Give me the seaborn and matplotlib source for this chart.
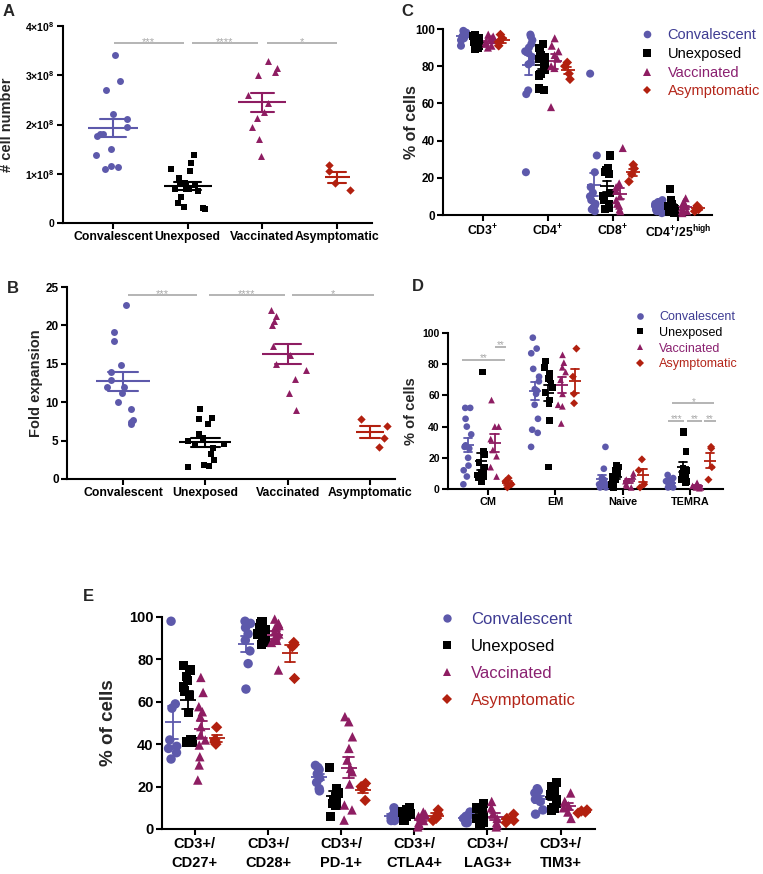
import numpy as np
import pandas as pd
import matplotlib
matplotlib.use("Agg")
import matplotlib.pyplot as plt
from matplotlib.lines import Line2D
import seaborn as sns

# ---------------- data ----------------
groups = ["Convalescent", "Unexposed", "Vaccinated", "Asymptomatic"]

# Panel A: cell number (x 10^8)
a_conv = [3.41, 2.88, 2.71, 2.22, 2.11, 1.95, 1.80, 1.80, 1.77, 1.51, 1.38, 1.16, 1.14, 1.10]
a_unexp = [1.38, 1.21, 1.10, 1.06, 0.92, 0.82, 0.82, 0.78, 0.70, 0.70, 0.70, 0.65, 0.53, 0.41, 0.32, 0.30, 0.28]
a_vacc = [3.29, 3.15, 3.07, 3.00, 2.60, 2.44, 2.25, 2.14, 1.95, 1.70, 1.37]
a_asym = [1.18, 1.05, 0.82, 0.66]

# Panel B: fold expansion
b_conv = [22.7, 19.2, 18.0, 14.9, 13.9, 12.9, 12.0, 12.0, 11.2, 10.0, 9.1, 7.7, 7.4, 7.1]
b_unexp = [9.1, 8.0, 7.8, 7.1, 5.9, 5.3, 5.0, 4.6, 4.5, 4.5, 4.1, 3.3, 2.5, 1.8, 1.7, 1.6]
b_vacc = [22.0, 21.2, 20.6, 20.0, 17.3, 16.2, 15.0, 14.2, 13.0, 11.2, 9.0]
b_asym = [7.8, 6.9, 5.4, 4.2]

# Panel C: % of cells
c_cats = [r"$\mathbf{CD3^{+}}$", r"$\mathbf{CD4^{+}}$", r"$\mathbf{CD8^{+}}$", r"$\mathbf{CD4^{+}/25^{high}}$"]
c_cd3_conv = [99, 98, 98, 97, 97, 96, 96, 95, 94, 91]
c_cd3_unexp = [97, 96, 95, 95, 94, 93, 92, 91, 90, 89]
c_cd3_vacc = [97, 96, 95, 94, 93, 92, 91, 90]
c_cd3_asym = [97, 95, 93, 91]
c_cd4_conv = [97, 96, 94, 92, 90, 88, 87, 85, 82, 81, 67, 65, 23]
c_cd4_unexp = [92, 90, 88, 86, 85, 84, 82, 80, 78, 76, 75, 68, 67]
c_cd4_vacc = [95, 91, 88, 86, 84, 80, 79, 58]
c_cd4_asym = [82, 80, 76, 73]
c_cd8_conv = [76, 32, 23, 15, 12, 10, 8, 6, 5, 4, 3, 2]
c_cd8_unexp = [32, 25, 24, 23, 22, 12, 10, 8, 6, 4, 3]
c_cd8_vacc = [36, 17, 15, 13, 10, 8, 6, 5, 3, 2]
c_cd8_asym = [27, 25, 22, 18]
c_treg_conv = [8, 7, 6, 5, 5, 4, 4, 3, 3, 2, 2, 1]
c_treg_unexp = [14, 8, 6, 5, 4, 3, 3, 2, 2, 1]
c_treg_vacc = [9, 7, 5, 4, 3, 2, 2, 1]
c_treg_asym = [5, 4, 3, 2]

# Panel D: % of cells
d_cats = ["CM", "EM", "Naive", "TEMRA"]
d_cm_conv = [52, 52, 45, 40, 35, 28, 27, 26, 20, 15, 12, 8, 3]
d_cm_unexp = [75, 24, 22, 17, 14, 12, 11, 10, 9, 8, 7, 5]
d_cm_vacc = [57, 40, 40, 32, 25, 21, 14, 8]
d_cm_asym = [7, 5, 3, 1]
d_em_conv = [97, 90, 87, 77, 72, 69, 64, 63, 61, 54, 45, 38, 36, 27]
d_em_unexp = [82, 78, 74, 71, 70, 68, 65, 62, 57, 55, 44, 14]
d_em_vacc = [86, 81, 78, 75, 70, 61, 54, 53, 42]
d_em_asym = [90, 72, 61, 55]
d_naive_conv = [27, 13, 7, 6, 5, 4, 3, 2, 2, 1, 1]
d_naive_unexp = [15, 14, 12, 11, 10, 8, 6, 5, 4, 3, 2, 1]
d_naive_vacc = [10, 8, 6, 5, 3, 2, 1]
d_naive_asym = [19, 12, 3, 1]
d_temra_conv = [9, 7, 6, 5, 4, 4, 3, 3, 2, 2, 1, 1]
d_temra_unexp = [37, 36, 24, 13, 12, 10, 9, 8, 7, 6, 5, 4]
d_temra_vacc = [4, 3, 2, 2, 1, 1, 0.5]
d_temra_asym = [27, 26, 14, 6]

# Panel E: % of cells
e_cats = ["CD3+/\nCD27+", "CD3+/\nCD28+", "CD3+/\nPD-1+", "CD3+/\nCTLA4+", "CD3+/\nLAG3+", "CD3+/\nTIM3+"]
e_cd27_conv = [98, 59, 57, 42, 39, 38, 36, 33]
e_cd27_unexp = [77, 75, 72, 70, 67, 65, 63, 55, 42, 41, 41]
e_cd27_vacc = [71.5, 64.4, 57.7, 55.3, 53, 48.3, 44.3, 42, 39.6, 34.1, 30.2, 23.1]
e_cd27_asym = [48, 42, 41, 40]
e_cd28_conv = [98, 97, 95, 92, 89, 84, 78, 66]
e_cd28_unexp = [98, 97, 96, 95, 94, 93, 92, 91, 89, 88, 87]
e_cd28_vacc = [99, 97, 96, 95, 93, 92, 91, 90, 89, 88, 75]
e_cd28_asym = [88, 87, 86, 71]
e_pd1_conv = [30, 29, 28, 26, 24, 22, 19, 18]
e_pd1_unexp = [29, 19, 17, 15, 14, 12, 11, 6]
e_pd1_vacc = [53, 50.6, 43.5, 38, 32.5, 28.6, 27, 21.2, 11.3, 9, 4.2]
e_pd1_asym = [21.5, 20, 19, 13.5]
e_ctla4_conv = [10, 8, 7, 6, 5, 5, 4, 4]
e_ctla4_unexp = [10, 9, 8, 7, 6, 5, 4]
e_ctla4_vacc = [8, 7, 6, 5, 4, 3, 2, 1]
e_ctla4_asym = [9, 7, 5, 4]
e_lag3_conv = [8, 7, 6, 5, 4, 3, 3]
e_lag3_unexp = [12, 10, 8, 6, 5, 4, 3, 2]
e_lag3_vacc = [13, 10, 7, 5, 3, 2, 1]
e_lag3_asym = [7, 5, 4, 3]
e_tim3_conv = [19, 18, 17, 15, 14, 13, 9, 7]
e_tim3_unexp = [22, 20, 18, 16, 14, 12, 10, 9]
e_tim3_vacc = [17, 13, 11, 10, 8, 5]
e_tim3_asym = [9, 8.5, 8, 7.5]

# ---------------- style ----------------
colors = ["#5D59AB", "#000000", "#8E1D62", "#B2200F"]
text_colors = ["#3E3C93", "#000000", "#8A2070", "#B4261A"]
markers = ["o", "s", "^", "D"]
palette = dict(zip(groups, colors))
grey = "#A8A8A8"

np.random.seed(3)
sns.set_theme(style="ticks")
plt.rcParams["font.family"] = ["Liberation Sans", "DejaVu Sans"]
plt.rcParams["font.weight"] = "bold"
plt.rcParams["axes.labelweight"] = "bold"
plt.rcParams["mathtext.fontset"] = "custom"
plt.rcParams["mathtext.rm"] = "Liberation Sans"
plt.rcParams["mathtext.bf"] = "Liberation Sans:bold"
plt.rcParams["mathtext.it"] = "Liberation Sans:italic"

W, H = 763, 874
fig = plt.figure(figsize=(W / 100, H / 100), dpi=100)
fig.patch.set_facecolor("white")


def add_ax(l, r, t, b):
    return fig.add_axes([l / W, 1 - b / H, (r - l) / W, (b - t) / H])


def style(ax, ysize, xsize):
    sns.despine(ax=ax)
    for s in ("left", "bottom"):
        ax.spines[s].set_linewidth(1.5)
        ax.spines[s].set_color("black")
    ax.tick_params(axis="both", direction="out", length=4, width=1.5,
                   color="black", labelcolor="black", pad=2)
    ax.tick_params(axis="y", labelsize=ysize)
    ax.tick_params(axis="x", labelsize=xsize)
    ax.grid(False)
    ax.set_facecolor("white")


def simple_panel(ax, lists, size, mean_ms, caps, jitter=0.24):
    df = pd.DataFrame([(g, v) for g, vals in zip(groups, lists) for v in vals],
                      columns=["group", "val"])
    for g, c, m in zip(groups, colors, markers):
        sub = df[df.group == g]
        sns.stripplot(data=sub, x="group", y="val", order=groups, color=c, marker=m,
                      jitter=jitter, size=size * (0.85 if m == "D" else 1), linewidth=0,
                      ax=ax, clip_on=False)
    for g, c, ms, cap in zip(groups, colors, mean_ms, caps):
        sub = df[df.group == g]
        sns.pointplot(data=sub, x="group", y="val", order=groups, color=c, errorbar="se",
                      capsize=cap, marker="_", markersize=ms, markeredgewidth=1.5,
                      linestyle="none", err_kws={"linewidth": 1.5}, ax=ax)
    return df


def grouped_panel(ax, cats, table, size, mean_ms, cap, jitter=0.25):
    rows = []
    for cat, per_group in zip(cats, table):
        for g, vals in zip(groups, per_group):
            for v in vals:
                rows.append((cat, g, v))
    df = pd.DataFrame(rows, columns=["cat", "group", "val"])
    for g, m in zip(groups, markers):
        sub = df[df.group == g]
        sns.stripplot(data=sub, x="cat", y="val", hue="group", order=cats, hue_order=groups,
                      palette=palette, dodge=True, jitter=jitter, marker=m,
                      size=size * (0.85 if m == "D" else 1), linewidth=0, legend=False,
                      ax=ax, clip_on=False)
    sns.pointplot(data=df, x="cat", y="val", hue="group", order=cats, hue_order=groups,
                  palette=palette, dodge=0.6, errorbar="se", capsize=cap, marker="_",
                  markersize=mean_ms, markeredgewidth=1.3, linestyle="none",
                  err_kws={"linewidth": 1.3}, legend=False, ax=ax)
    return df


def sig(ax, x0, x1, y, txt, size, dy=-1.0):
    ax.plot([x0, x1], [y, y], color=grey, lw=1.2, clip_on=False, solid_capstyle="butt")
    ax.annotate(txt, xy=((x0 + x1) / 2, y), xytext=(0, dy), textcoords="offset points",
                ha="center", va="baseline", color=grey, fontsize=size, fontweight="normal")


def add_legend(x_px, y_px, fs, ms, labelspacing, pad):
    handles = [Line2D([], [], marker=m, color=c, linestyle="none",
                      markersize=ms * (0.8 if m == "D" else 1), markeredgewidth=0)
               for m, c in zip(markers, colors)]
    fig.legend(handles, groups, loc="upper left", bbox_to_anchor=(x_px / W, 1 - y_px / H),
               frameon=False, prop={"size": fs, "weight": "normal"}, labelcolor=text_colors,
               handlelength=1.0, handletextpad=pad, labelspacing=labelspacing,
               borderpad=0, borderaxespad=0)


# ---------------- Panel A ----------------
axA = add_ax(63, 372, 26, 223)
simple_panel(axA, [a_conv, a_unexp, a_vacc, a_asym], 5.0, [36, 35, 34, 18], [0.36, 0.36, 0.31, 0.24])
axA.set_ylim(0, 4)
axA.set_yticks(range(5))
axA.set_yticklabels(["0"] + [r"$\mathbf{%d{\times}10^{8}}$" % i for i in range(1, 5)])
axA.set_xlim(-0.67, 3.47)
axA.set_xticks(range(4))
axA.set_xticklabels(groups)
axA.set_xlabel("")
axA.set_ylabel("# cell number", fontsize=10.5)
axA.yaxis.set_label_coords(-0.16, 0.5)
style(axA, 7.5, 8.8)
sig(axA, 0.01, 0.95, 3.65, "***", 8)
sig(axA, 1.06, 1.94, 3.65, "****", 8)
sig(axA, 2.06, 3.00, 3.65, "*", 8)

# ---------------- Panel B ----------------
axB = add_ax(67, 395, 287, 479)
simple_panel(axB, [b_conv, b_unexp, b_vacc, b_asym], 5.0, [39, 38, 37, 20], [0.36, 0.36, 0.31, 0.24])
axB.set_ylim(0, 25)
axB.set_yticks([0, 5, 10, 15, 20, 25])
axB.set_xlim(-0.68, 3.3)
axB.set_xticks(range(4))
axB.set_xticklabels(groups)
axB.set_xlabel("")
axB.set_ylabel("Fold expansion", fontsize=10.5)
axB.yaxis.set_label_coords(-0.073, 0.5)
style(axB, 8.5, 8.8)
sig(axB, 0.06, 0.90, 23.9, "***", 8)
sig(axB, 1.04, 1.96, 23.9, "****", 8)
sig(axB, 2.05, 3.04, 23.9, "*", 8)

# ---------------- Panel C ----------------
axC = add_ax(443, 712, 29, 215)
grouped_panel(axC, c_cats,
              [[c_cd3_conv, c_cd3_unexp, c_cd3_vacc, c_cd3_asym],
               [c_cd4_conv, c_cd4_unexp, c_cd4_vacc, c_cd4_asym],
               [c_cd8_conv, c_cd8_unexp, c_cd8_vacc, c_cd8_asym],
               [c_treg_conv, c_treg_unexp, c_treg_vacc, c_treg_asym]],
              5.8, 10, 0.12)
axC.set_ylim(0, 100)
axC.set_yticks([0, 20, 40, 60, 80, 100])
axC.set_xlim(-0.615, 3.52)
axC.set_xticks(range(4))
axC.set_xticklabels(c_cats)
axC.set_xlabel("")
axC.set_ylabel("% of cells", fontsize=11.5)
axC.yaxis.set_label_coords(-0.089, 0.5)
style(axC, 8.5, 8.8)
add_legend(640, 28, 10.5, 5.5, 0.33, 0.9)

# ---------------- Panel D ----------------
axD = add_ax(448, 723, 333, 489)
grouped_panel(axD, d_cats,
              [[d_cm_conv, d_cm_unexp, d_cm_vacc, d_cm_asym],
               [d_em_conv, d_em_unexp, d_em_vacc, d_em_asym],
               [d_naive_conv, d_naive_unexp, d_naive_vacc, d_naive_asym],
               [d_temra_conv, d_temra_unexp, d_temra_vacc, d_temra_asym]],
              4.8, 9, 0.12)
axD.set_ylim(0, 100)
axD.set_yticks([0, 20, 40, 60, 80, 100])
axD.set_xlim(-0.59, 3.49)
axD.set_xticks(range(4))
axD.set_xticklabels(d_cats)
axD.set_xlabel("")
axD.set_ylabel("% of cells", fontsize=10.5)
axD.yaxis.set_label_coords(-0.109, 0.5)
style(axD, 7.5, 7.8)
sig(axD, -0.38, 0.25, 83, "**", 7)
sig(axD, 0.10, 0.27, 91, "**", 7)
sig(axD, 2.68, 2.91, 43.8, "***", 7)
sig(axD, 2.96, 3.18, 43.8, "**", 7)
sig(axD, 3.21, 3.39, 43.8, "**", 7)
sig(axD, 2.74, 3.36, 55, "*", 7)
add_legend(634, 311, 9, 4.8, 0.3, 1.0)

# ---------------- Panel E ----------------
axE = add_ax(162, 595, 617, 829)
grouped_panel(axE, e_cats,
              [[e_cd27_conv, e_cd27_unexp, e_cd27_vacc, e_cd27_asym],
               [e_cd28_conv, e_cd28_unexp, e_cd28_vacc, e_cd28_asym],
               [e_pd1_conv, e_pd1_unexp, e_pd1_vacc, e_pd1_asym],
               [e_ctla4_conv, e_ctla4_unexp, e_ctla4_vacc, e_ctla4_asym],
               [e_lag3_conv, e_lag3_unexp, e_lag3_vacc, e_lag3_asym],
               [e_tim3_conv, e_tim3_unexp, e_tim3_vacc, e_tim3_asym]],
              6.8, 12, 0.14)
axE.set_ylim(0, 100)
axE.set_yticks([0, 20, 40, 60, 80, 100])
axE.set_xlim(-0.45, 5.47)
axE.set_xticks(range(6))
axE.set_xticklabels(e_cats, linespacing=1.45)
axE.set_xlabel("")
axE.set_ylabel("% of cells", fontsize=13.5)
axE.yaxis.set_label_coords(-0.104, 0.5)
style(axE, 10.5, 10.5)
add_legend(439, 612, 12, 6.0, 0.72, 0.9)

# ---------------- panel letters ----------------
for lbl, x, y in [("A", 3, 4), ("B", 7, 281), ("C", 401, 4), ("D", 412, 279), ("E", 83, 589)]:
    fig.text(x / W, 1 - y / H, lbl, fontsize=12, fontweight="bold", ha="left", va="top")

fig.savefig("out.png", dpi=100)
